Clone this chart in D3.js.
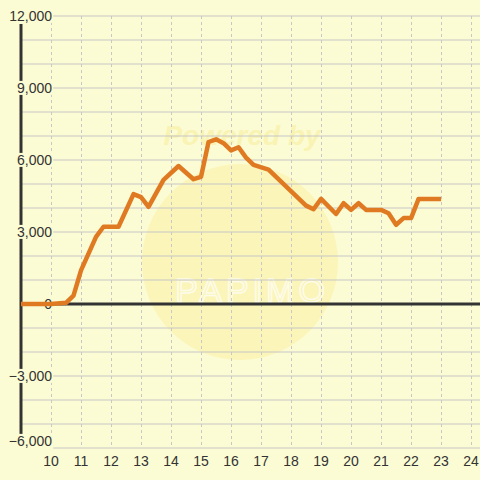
<!DOCTYPE html>
<meta charset="utf-8">
<head>
  <title>Line chart</title>
</head>
<style>
body {
  margin: 0;
  background: #fcfcd4;
}
svg {
  display: block;
  font-family: "Liberation Sans", Arial, sans-serif;
}
.grid-h line {
  stroke: #c6c6c6;
  stroke-width: 1;
}
.grid-v line {
  stroke: #c8c8c8;
  stroke-width: 1;
  stroke-dasharray: 3,3;
}
.tick-label {
  font-size: 14px;
  fill: #333;
}
</style>
<body>
<svg width="480" height="480"></svg>
<script src="https://cdnjs.cloudflare.com/ajax/libs/d3/7.8.5/d3.min.js"></script>
<script>
var hours = [9, 10, 10.5, 10.75, 11, 11.5, 11.75, 12.25, 12.75, 13, 13.25, 13.75, 14.25, 14.75, 15,
  15.25, 15.5, 15.75, 16, 16.25, 16.5, 16.75, 17.25, 18.5, 18.75, 19, 19.5, 19.75, 20, 20.25,
  20.5, 21, 21.25, 21.5, 21.75, 22, 22.25, 23];
var values = [0, 0, 50, 350, 1400, 2800, 3220, 3220, 4580, 4450, 4050, 5170, 5750, 5200, 5300,
  6750, 6860, 6700, 6400, 6530, 6100, 5800, 5600, 4100, 3950, 4380, 3750, 4200, 3920, 4200,
  3920, 3920, 3780, 3300, 3580, 3580, 4380, 4380];
var yTicks = [-6000, -3000, 0, 3000, 6000, 9000, 12000];
var yGrid = d3.range(-6000, 12001, 1000);
var xTicks = d3.range(10, 25);

var svg = d3.select('svg');
var x = d3.scaleLinear().domain([9, 24.33]).range([21, 481]);
var y = d3.scaleLinear().domain([-6000, 12000]).range([448, 16]);

// watermark
var wm = svg.append('g').attr('class', 'watermark');
wm.append('circle')
  .attr('cx', 240).attr('cy', 262).attr('r', 98)
  .attr('fill', '#fbee9c').attr('opacity', 0.45);
wm.append('text')
  .attr('x', 242).attr('y', 145)
  .attr('text-anchor', 'middle')
  .attr('font-size', 28).attr('font-weight', 'bold').attr('font-style', 'italic')
  .attr('fill', '#f8ec9a').attr('opacity', 0.55)
  .text('Powered by');
wm.append('text')
  .attr('x', 252).attr('y', 302)
  .attr('text-anchor', 'middle')
  .attr('font-size', 34).attr('letter-spacing', 4)
  .attr('fill', 'none').attr('stroke', '#ffffff').attr('stroke-width', 1.5).attr('opacity', 0.7)
  .text('PAPIMO');

// grid
svg.append('g').attr('class', 'grid-h')
  .selectAll('line')
  .data(yGrid)
  .join('line')
  .attr('x1', 21).attr('x2', 480)
  .attr('y1', function(d) { return y(d); })
  .attr('y2', function(d) { return y(d); });

svg.append('g').attr('class', 'grid-v')
  .selectAll('line')
  .data(xTicks)
  .join('line')
  .attr('x1', function(d) { return Math.round(x(d)) + 0.5; })
  .attr('x2', function(d) { return Math.round(x(d)) + 0.5; })
  .attr('y1', 16).attr('y2', 448);

// axes
svg.append('line')
  .attr('x1', 21).attr('x2', 480)
  .attr('y1', y(0)).attr('y2', y(0))
  .attr('stroke', '#333').attr('stroke-width', 3);
svg.append('line')
  .attr('x1', 21).attr('x2', 21)
  .attr('y1', 24).attr('y2', 448)
  .attr('stroke', '#333').attr('stroke-width', 3);

// y labels with background
var fmt = d3.format(',');
var yl = svg.append('g').selectAll('g')
  .data(yTicks)
  .join('g')
  .attr('transform', function(d) {
    var py = d === -6000 ? y(d) - 7 : y(d);
    return 'translate(52,' + py + ')';
  });
yl.each(function(d) {
  var g = d3.select(this);
  var t = g.append('text')
    .attr('class', 'tick-label')
    .attr('text-anchor', 'end')
    .attr('dy', '0.35em')
    .text(fmt(d));
  var bb = t.node().getBBox();
  var extra = d === -6000 ? 3 : 0;
  g.insert('rect', 'text')
    .attr('x', bb.x - 1).attr('y', bb.y + 1)
    .attr('width', bb.width + 2).attr('height', bb.height - 2 + extra)
    .attr('fill', '#fcfcd4');
});

svg.append('g').selectAll('text')
  .data(xTicks)
  .join('text')
  .attr('class', 'tick-label')
  .attr('text-anchor', 'middle')
  .attr('x', function(d) { return x(d); })
  .attr('y', 466)
  .text(function(d) { return d; });

// series
var line = d3.line()
  .x(function(d, i) { return x(hours[i]); })
  .y(function(d) { return y(d); });
svg.append('path')
  .datum(values)
  .attr('d', line)
  .attr('fill', 'none')
  .attr('stroke', '#e07a22')
  .attr('stroke-width', 4.5)
  .attr('stroke-linejoin', 'round');
</script>
</body>
</html>
